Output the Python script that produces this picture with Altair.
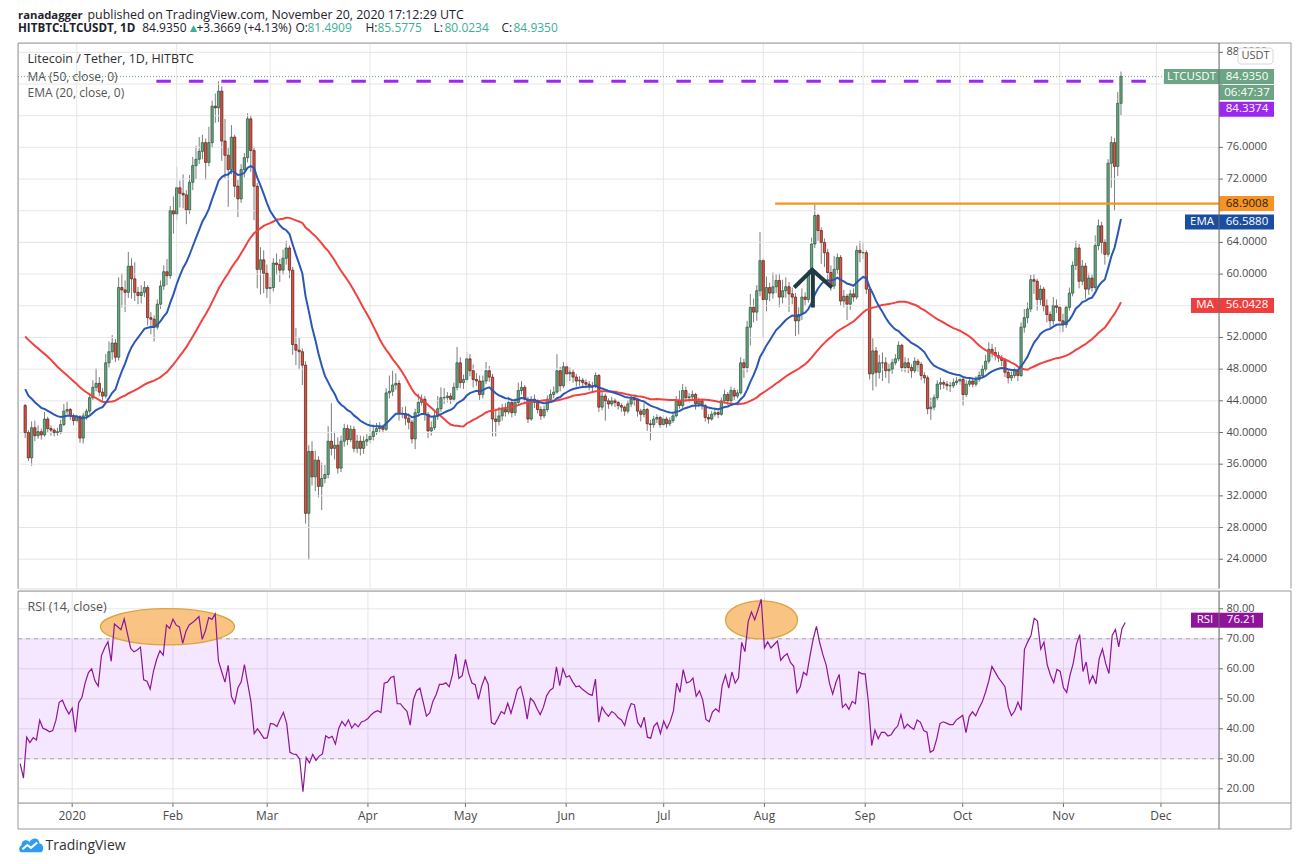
import altair as alt
import numpy as np
import pandas as pd

# ---------------------------------------------------------------- data
START_DATE = "2019-12-16"
FIRST_OPEN = 43.4

# closes before the visible window (Oct 17 - Dec 15 2019): only used to warm up MA / EMA / RSI
warmup_close = [56.2, 54.0, 54.3, 55.6, 55.6, 54.3, 50.9, 51.3, 56.5, 58.5, 60.0, 58.0, 59.4, 57.2, 57.4,
                57.1, 59.0, 58.2, 60.7, 61.1, 62.0, 60.3, 59.5, 60.6, 61.7, 59.6, 60.1, 60.0, 58.5, 57.2,
                57.8, 58.8, 57.4, 56.3, 55.6, 51.7, 47.8, 48.7, 44.8, 45.9, 46.5, 49.0, 48.3, 49.4, 47.7,
                46.5, 45.5, 45.0, 44.8, 45.9, 46.6, 45.8, 46.2, 44.7, 44.0, 43.6, 43.9, 44.3, 42.5, 43.4]

close_dec19 = [40.0, 36.8, 40.6, 39.6, 40.1, 39.7, 41.7, 40.5, 40.3, 40.0, 40.1, 41.0, 42.7, 42.9, 42.1, 41.5]
high_dec19 = [43.6, 40.3, 41.4, 41.5, 40.9, 40.5, 42.6, 42.0, 40.9, 40.5, 40.6, 41.6, 43.6, 43.9, 43.1, 42.4]
low_dec19 = [39.3, 36.4, 35.8, 38.9, 39.2, 39.1, 39.5, 40.0, 39.6, 39.5, 39.6, 39.8, 40.8, 42.3, 41.6, 40.9]

close_jan = [42.0, 39.3, 42.1, 42.7, 44.4, 45.7, 46.2, 45.1, 44.6, 48.8, 50.2, 51.3, 49.5, 58.3, 58.0, 57.7,
             61.0, 59.4, 57.7, 57.3, 57.7, 58.3, 54.5, 54.3, 53.3, 56.2, 58.5, 60.3, 59.8, 68.0, 67.6]
high_jan = [42.3, 42.2, 42.5, 43.0, 44.8, 46.6, 48.1, 47.0, 45.6, 49.9, 51.5, 52.3, 51.8, 59.6, 60.1, 59.2,
            62.8, 62.0, 61.5, 58.4, 58.6, 59.1, 58.6, 55.2, 54.8, 56.8, 59.2, 61.1, 61.9, 68.6, 69.8]
low_jan = [41.2, 38.7, 38.6, 41.6, 42.4, 44.1, 45.2, 44.6, 44.0, 44.3, 48.2, 49.2, 48.9, 49.1, 55.8, 55.2,
           57.0, 56.9, 56.6, 56.2, 56.3, 57.1, 53.5, 52.4, 51.5, 53.0, 55.6, 58.0, 58.6, 59.4, 65.1]

close_feb = [70.9, 70.2, 70.0, 68.1, 71.6, 73.7, 74.5, 75.5, 76.6, 74.1, 76.6, 81.2, 81.0, 83.1, 76.8,
             75.0, 73.2, 77.3, 71.1, 69.5, 73.2, 74.7, 79.6, 75.6, 71.1, 60.6, 61.8, 60.1, 58.2]
high_feb = [73.5, 71.8, 72.6, 70.6, 72.5, 74.8, 76.2, 77.3, 77.6, 77.1, 78.6, 81.9, 82.8, 84.34, 83.7,
            79.6, 75.9, 78.8, 77.6, 71.9, 73.9, 75.3, 80.3, 80.0, 76.1, 71.5, 63.4, 63.0, 61.2]
low_feb = [66.8, 68.4, 68.3, 66.3, 67.6, 70.6, 72.0, 73.9, 74.5, 71.9, 73.6, 75.9, 79.1, 79.2, 74.3,
           72.1, 68.5, 72.6, 69.7, 67.2, 69.0, 72.2, 74.1, 72.9, 66.8, 58.2, 57.4, 57.6, 57.0]

close_mar = [58.3, 61.4, 61.2, 60.5, 62.0, 63.3, 60.5, 51.1, 50.4, 50.2, 48.5, 29.8, 37.6, 34.4, 36.5, 33.2,
             34.2, 34.7, 38.9, 38.0, 38.4, 35.5, 38.9, 40.5, 39.1, 40.4, 38.0, 38.9, 38.0, 38.9, 39.1]
high_mar = [59.6, 62.0, 62.6, 61.9, 63.1, 64.2, 63.6, 60.9, 53.2, 52.0, 50.6, 49.0, 38.4, 38.9, 37.7, 37.0,
            36.2, 35.9, 40.8, 43.7, 40.1, 39.4, 39.6, 41.1, 41.0, 40.9, 40.8, 39.7, 39.6, 39.5, 39.8]
low_mar = [56.2, 57.8, 59.9, 59.0, 59.9, 61.2, 59.5, 49.8, 48.5, 48.0, 46.0, 28.5, 23.9, 33.3, 32.6, 31.8,
           30.2, 33.6, 34.2, 37.1, 36.6, 34.8, 35.0, 38.2, 38.4, 38.8, 37.5, 37.4, 37.1, 37.3, 38.3]

close_apr = [39.5, 40.1, 40.5, 40.7, 40.4, 45.0, 45.2, 46.0, 46.2, 42.4, 42.4, 41.8, 41.3, 39.2, 42.5,
             43.8, 44.2, 42.3, 40.2, 40.6, 42.1, 43.0, 44.4, 44.4, 44.6, 44.2, 45.7, 48.8, 46.3, 46.7]
high_apr = [41.5, 41.0, 41.2, 41.3, 41.0, 45.6, 47.2, 47.8, 47.5, 46.6, 43.2, 43.3, 42.4, 41.6, 43.0,
            44.9, 44.8, 44.6, 42.6, 41.4, 42.7, 44.6, 45.7, 45.6, 45.1, 45.0, 46.3, 50.8, 49.5, 47.3]
low_apr = [38.6, 39.0, 39.7, 40.0, 39.9, 40.2, 44.3, 44.6, 45.4, 41.5, 41.8, 40.9, 40.4, 38.6, 37.9,
           42.0, 43.4, 41.5, 39.3, 39.6, 40.3, 41.6, 42.6, 43.6, 43.8, 43.6, 43.9, 45.3, 45.6, 45.5]

close_may = [49.3, 47.8, 46.7, 46.5, 44.8, 46.5, 47.8, 47.0, 41.7, 41.4, 42.1, 42.9, 42.6, 43.8, 42.5, 43.8,
             45.3, 45.7, 44.2, 41.7, 44.2, 43.8, 42.9, 42.1, 42.9, 44.2, 44.8, 45.1, 47.8, 45.9, 48.3]
high_may = [50.2, 49.9, 48.6, 47.5, 47.2, 47.2, 48.9, 48.4, 47.4, 43.0, 43.2, 43.6, 43.7, 44.5, 44.2, 44.3,
            46.3, 46.5, 46.0, 44.5, 44.6, 44.8, 44.2, 43.3, 43.4, 44.7, 45.4, 45.8, 49.9, 48.3, 48.9]
low_may = [46.3, 47.1, 45.7, 45.9, 44.1, 44.3, 46.1, 46.4, 39.5, 39.5, 40.9, 41.5, 42.0, 42.3, 41.9, 42.1,
           43.5, 44.8, 43.6, 41.2, 41.5, 43.1, 42.4, 41.6, 41.8, 42.6, 43.9, 44.3, 44.9, 45.2, 45.6]

close_jun = [47.4, 47.6, 47.0, 46.5, 46.6, 46.3, 46.1, 45.9, 45.8, 47.2, 43.2, 44.6, 44.0, 43.6, 44.0,
             43.8, 43.4, 43.2, 42.7, 43.6, 44.2, 44.1, 42.7, 42.3, 42.9, 41.1, 41.0, 41.7, 41.9, 41.0]
high_jun = [48.8, 48.2, 48.0, 47.4, 47.1, 46.9, 46.7, 46.5, 46.4, 47.6, 47.4, 45.1, 44.9, 44.3, 44.5,
            44.3, 44.0, 43.7, 43.4, 44.1, 44.8, 44.6, 44.3, 43.0, 43.7, 43.1, 41.6, 42.1, 42.3, 42.1]
low_jun = [46.3, 46.5, 46.3, 45.8, 45.9, 45.7, 45.6, 45.3, 45.2, 45.6, 42.6, 42.8, 41.5, 43.0, 43.3,
           43.2, 42.9, 42.6, 42.1, 42.4, 43.2, 43.4, 42.0, 41.4, 41.9, 40.2, 39.0, 40.6, 41.2, 40.6]

close_jul = [41.7, 41.1, 41.5, 42.1, 44.0, 43.4, 45.3, 44.4, 44.5, 44.8, 43.6, 44.0, 43.4, 41.9, 41.7, 42.3,
             42.5, 42.3, 44.0, 44.8, 44.0, 45.3, 44.6, 45.0, 48.8, 48.2, 53.3, 55.8, 55.2, 57.9, 61.7]
high_jul = [42.2, 42.0, 41.9, 42.6, 44.6, 45.3, 46.1, 45.8, 45.0, 45.3, 45.0, 44.4, 44.2, 43.6, 42.3, 42.7,
            42.9, 42.8, 44.4, 45.4, 45.1, 45.8, 45.6, 45.4, 49.5, 49.3, 54.1, 57.5, 56.9, 58.6, 65.3]
low_jul = [40.8, 40.6, 40.8, 41.2, 41.9, 43.0, 43.1, 43.9, 43.8, 44.0, 42.9, 43.2, 42.9, 41.4, 41.1, 41.5,
           42.0, 41.8, 42.1, 43.7, 43.5, 43.8, 44.1, 44.3, 44.8, 46.9, 47.6, 51.0, 53.9, 54.1, 57.2]

close_aug = [56.8, 58.3, 57.6, 58.4, 59.2, 57.1, 57.9, 58.4, 57.5, 57.1, 54.1, 54.9, 57.1, 56.8, 60.0, 63.8,
             67.4, 65.5, 64.0, 62.7, 60.2, 58.5, 60.6, 62.1, 56.6, 57.2, 56.2, 57.5, 57.1, 63.0, 62.7]
high_aug = [62.0, 59.7, 58.9, 60.2, 60.0, 60.1, 59.3, 59.6, 59.0, 58.3, 57.6, 55.8, 58.2, 57.7, 60.5, 64.6,
            68.8, 67.6, 65.9, 64.5, 63.2, 61.1, 62.3, 62.6, 62.4, 58.0, 57.5, 58.0, 58.2, 63.6, 64.2]
low_aug = [52.0, 55.3, 56.6, 56.9, 57.6, 55.8, 56.3, 57.0, 55.2, 56.2, 52.2, 52.4, 54.2, 56.0, 56.4, 59.3,
           63.3, 64.2, 61.3, 60.9, 59.3, 57.9, 58.1, 60.0, 56.0, 55.8, 54.2, 55.5, 56.5, 56.8, 61.5]

close_sep = [62.7, 58.1, 47.4, 50.3, 47.6, 48.8, 48.8, 47.8, 48.0, 48.8, 49.3, 51.0, 48.2, 48.8, 48.2,
             47.8, 49.0, 48.6, 47.2, 46.9, 43.0, 43.2, 44.4, 46.1, 46.3, 46.1, 45.9, 45.9, 46.3, 46.5]
high_sep = [64.1, 63.0, 58.4, 51.9, 50.8, 49.8, 50.1, 49.5, 48.7, 49.3, 49.9, 51.5, 51.2, 49.5, 49.4,
            48.6, 49.5, 49.3, 48.9, 47.6, 47.2, 44.4, 44.8, 46.6, 46.9, 46.6, 46.5, 46.4, 46.8, 47.0]
low_sep = [61.9, 57.5, 46.7, 45.3, 45.8, 46.8, 46.5, 46.9, 46.2, 47.4, 48.5, 49.0, 47.7, 47.6, 47.5,
           46.9, 47.5, 47.7, 46.6, 46.2, 42.3, 41.6, 42.8, 44.0, 45.4, 45.5, 45.3, 45.1, 45.6, 46.0]

close_oct = [46.7, 44.8, 46.1, 46.5, 46.1, 46.7, 47.2, 48.0, 49.0, 50.5, 50.1, 49.7, 49.4, 49.1, 47.6, 46.9,
             47.2, 47.8, 47.2, 53.3, 54.5, 55.6, 59.3, 59.1, 56.8, 58.1, 56.0, 54.9, 54.1, 56.0, 55.8]
high_oct = [47.3, 47.0, 46.6, 47.0, 46.8, 47.1, 47.7, 48.5, 49.8, 51.4, 51.2, 50.8, 50.2, 49.8, 49.4, 48.0,
            47.7, 48.2, 48.1, 53.9, 55.6, 56.4, 59.9, 60.0, 59.4, 58.6, 58.4, 56.8, 55.3, 57.1, 56.8]
low_oct = [46.0, 43.4, 44.5, 45.8, 45.7, 45.8, 46.4, 46.9, 47.7, 48.7, 49.5, 49.1, 48.9, 48.4, 47.0, 46.2,
           46.5, 46.9, 46.5, 47.0, 52.6, 53.8, 55.2, 57.5, 55.4, 56.1, 55.3, 53.9, 53.2, 53.6, 55.1]

close_nov = [54.1, 53.6, 55.8, 57.6, 61.1, 63.3, 59.1, 61.0, 58.1, 59.5, 58.3, 63.6, 66.1, 64.0, 62.5,
             74.0, 76.6, 73.6, 81.5681, 84.935]
high_nov = [56.2, 55.0, 56.1, 58.3, 61.6, 64.2, 63.8, 61.8, 61.4, 60.1, 60.0, 64.9, 66.9, 66.6, 64.4,
            74.5, 77.4, 77.2, 83.0, 85.5775]
low_nov = [52.6, 52.7, 53.2, 55.4, 57.2, 60.5, 58.2, 58.6, 56.9, 57.4, 57.8, 58.0, 63.0, 62.6, 61.2,
           62.2, 70.9, 68.0, 72.4, 80.0234]

month_labels = ["2020", "Feb", "Mar", "Apr", "May", "Jun", "Jul", "Aug", "Sep", "Oct", "Nov", "Dec"]
price_ticks = [24, 28, 32, 36, 40, 44, 48, 52, 56, 60, 64, 68, 72, 76, 80, 84, 88]
price_labels_hidden = [56, 68, 80, 84]      # covered by the price tags in the reference
rsi_ticks = [20, 30, 40, 50, 60, 70, 80]

# annotations drawn by the author (day index from START_DATE, price / RSI units)
feb_high_price, feb_high_start_day = 84.3374, 40.7
resistance_price, resistance_start_day = 68.9008, 232.7
arrow_days = [238.6, 244.2, 250.3]
arrow_prices = [58.31, 60.54, 58.31]
arrow_stem_day, arrow_stem_low = 244.4, 55.78
ellipse_days = [45.3, 228.1]
ellipse_rsi = [74.0, 76.3]

last_price = 84.9350
ema_label_value = 66.5880
ma_label_value = 56.0428
rsi_label_value = 76.21
countdown = "06:47:37"

header_texts = ["ranadagger", "published on TradingView.com, November 20, 2020 17:12:29 UTC",
                "HITBTC:LTCUSDT, 1D", "84.9350", "\u25b2", "+3.3669 (+4.13%)", "O:", "81.4909", "H:", "85.5775",
                "L:", "80.0234", "C:", "84.9350"]

# ---------------------------------------------------------------- assemble
close = (close_dec19 + close_jan + close_feb + close_mar + close_apr + close_may + close_jun +
         close_jul + close_aug + close_sep + close_oct + close_nov)
high = (high_dec19 + high_jan + high_feb + high_mar + high_apr + high_may + high_jun +
        high_jul + high_aug + high_sep + high_oct + high_nov)
low = (low_dec19 + low_jan + low_feb + low_mar + low_apr + low_may + low_jun +
       low_jul + low_aug + low_sep + low_oct + low_nov)
n = len(close)
assert len(high) == n and len(low) == n, (n, len(high), len(low))
opens = [FIRST_OPEN] + close[:-1]

s = pd.Series(warmup_close + close, dtype=float)
ma = s.rolling(50).mean().iloc[-n:].values
ema = s.ewm(span=20, adjust=False).mean().iloc[-n:].values
diff = s.diff().fillna(0)
gain = diff.clip(lower=0).ewm(alpha=1 / 14, adjust=False).mean()
loss = (-diff).clip(lower=0).ewm(alpha=1 / 14, adjust=False).mean()
rsi = (100 - 100 / (1 + gain / loss)).iloc[-n:].values

df = pd.DataFrame({"d": np.arange(n), "open": opens, "close": close, "high": high, "low": low,
                   "ma": ma, "ema": ema, "rsi": rsi})
df["high"] = df[["high", "open", "close"]].max(axis=1)
df["low"] = df[["low", "open", "close"]].min(axis=1)

start = pd.Timestamp(START_DATE)
month_days = [int((m - start).days) for m in pd.date_range("2020-01-01", "2020-12-01", freq="MS")]
months_df = pd.DataFrame({"d": month_days, "label": month_labels})
pticks_df = pd.DataFrame({"v": price_ticks})
plabels_df = pd.DataFrame({"v": [v for v in price_ticks if v not in price_labels_hidden]})
rticks_df = pd.DataFrame({"v": rsi_ticks})

# ---------------------------------------------------------------- layout / style
FONT = "Open Sans"
W = 1201
H1 = 545.5
H2 = 212
AXW = 72
AXH = 26
TOP_ROOM = 33.7          # space above the price pane for the publication header
PX_DAY = 3.25
X0 = -0.677
PX_PRICE = 7.92
P_TOP = 89.18
PX_RSI = 3.0
R_TOP = 85.93

GRID = "#e6e6e6"
FRAME = "#9a9a9a"
AXC = "#6e6e6e"
LABEL_C = "#4a4a4a"
UP, UP_B = "#6ba583", "#225437"
DN, DN_B = "#d75442", "#5b1a13"
WICK = "#7d7d7f"
MA_C = "#f0433f"
EMA_C = "#2a58b6"
PURPLE = "#9c27f0"
ORANGE = "#f7931e"
LBL_G = "#6ba583"
EMA_BOX = "#1b4ea0"
MA_BOX = "#ef3e3e"
RSI_C = "#8e1599"
TEAL = "#3dae95"
DARK = "#1e222d"

ONE = pd.DataFrame({"k": [0]})
xs = alt.Scale(domain=[X0, X0 + W / PX_DAY], nice=False, zero=False)
ps = alt.Scale(domain=[P_TOP - H1 / PX_PRICE, P_TOP], nice=False, zero=False)
rs = alt.Scale(domain=[R_TOP - H2 / PX_RSI, R_TOP], nice=False, zero=False)
XN = alt.X("d:Q", axis=None)


def seg(x1, x2, y1, y2, color=FRAME, w=1.0):
    return alt.Chart(ONE).mark_rule(color=color, strokeWidth=w).encode(
        x=alt.value(x1), x2=alt.value(x2), y=alt.value(y1), y2=alt.value(y2))


def txt(s_, x, y, size=12, color="#555555", weight="normal", align="left", baseline="middle"):
    return alt.Chart(ONE).mark_text(text=s_, font=FONT, fontSize=size, color=color, fontWeight=weight,
                                    align=align, baseline=baseline).encode(x=alt.value(x), y=alt.value(y))


def pbox(x1, x2, p, color, half=7.5):
    return alt.Chart(ONE).mark_rect(color=color, yOffset=-half, y2Offset=half).encode(
        x=alt.value(x1), x2=alt.value(x2), y=alt.YDatum(p, axis=None), y2=alt.Y2Datum(p))


def ptxt(s_, x, p, color="white", size=11.5):
    return alt.Chart(ONE).mark_text(text=s_, font=FONT, fontSize=size, color=color, align="center",
                                    baseline="middle").encode(x=alt.value(x), y=alt.YDatum(p, axis=None))


def month_grid(h):
    return alt.Chart(months_df).mark_rule(color=GRID, strokeWidth=1).encode(
        x=XN, y=alt.value(0), y2=alt.value(h))


def value_grid(frame):
    return alt.Chart(frame).mark_rule(color=GRID, strokeWidth=1).encode(
        x=alt.value(0), x2=alt.value(W), y=alt.Y("v:Q", axis=None))


def value_axis(tick_frame, label_frame, fmt):
    ticks = alt.Chart(tick_frame).mark_rule(color=AXC, strokeWidth=1).encode(
        x=alt.value(W), x2=alt.value(W + 4), y=alt.Y("v:Q", axis=None))
    labels = alt.Chart(label_frame).mark_text(align="left", baseline="middle", font=FONT, fontSize=11,
                                              color=LABEL_C).encode(
        x=alt.value(W + 7.5), y=alt.Y("v:Q", axis=None), text=alt.Text("v:Q", format=fmt))
    return [ticks, labels]


# ---------------------------------------------------------------- publication header (above the price pane)
hx = [0, 69.5, 0, 124.2, 169.5, 178.5, 277.5, 289.5, 347.5, 359.5, 415.5, 426.5, 483.5, 495.5]
hy = [-24.0, -24.0] + [-11.5] * 12
hsize = [11.3, 12.4, 11.6] + [12.0] * 11
hbold = [True, False, True] + [False] * 11
hcol = [DARK, DARK, DARK, DARK, TEAL, DARK, DARK, TEAL, DARK, TEAL, DARK, TEAL, DARK, TEAL]
header_layers = [txt(t_, x_, y_, size=z_, color=c_, weight="bold" if b_ else "normal", baseline="alphabetic")
                 for t_, x_, y_, z_, b_, c_ in zip(header_texts, hx, hy, hsize, hbold, hcol)]
top_anchor = alt.Chart(ONE).mark_rule(color="white", opacity=0, strokeWidth=1).encode(
    x=alt.value(0), x2=alt.value(1), y=alt.value(-TOP_ROOM + 0.5), y2=alt.value(-TOP_ROOM + 0.5))

# ---------------------------------------------------------------- price panel
wicks = alt.Chart(df).mark_rule(color=WICK, strokeWidth=1).encode(
    x=alt.X("d:Q", scale=xs, axis=None), y=alt.Y("low:Q", scale=ps, axis=None), y2="high:Q")
bodies_up = alt.Chart(df).transform_filter("datum.close >= datum.open").mark_bar(
    size=2.3, fill=UP, stroke=UP_B, strokeWidth=0.7).encode(x=XN, y=alt.Y("open:Q", axis=None), y2="close:Q")
bodies_dn = alt.Chart(df).transform_filter("datum.close < datum.open").mark_bar(
    size=2.3, fill=DN, stroke=DN_B, strokeWidth=0.7).encode(x=XN, y=alt.Y("open:Q", axis=None), y2="close:Q")
ma_line = alt.Chart(df).mark_line(color=MA_C, strokeWidth=2).encode(x=XN, y=alt.Y("ma:Q", axis=None))
ema_line = alt.Chart(df).mark_line(color=EMA_C, strokeWidth=2).encode(x=XN, y=alt.Y("ema:Q", axis=None))

price_line = alt.Chart(ONE).mark_rule(color=LBL_G, strokeDash=[1, 2], strokeWidth=1).encode(
    x=alt.value(0), x2=alt.value(W), y=alt.YDatum(last_price, axis=None))
feb_line = alt.Chart(ONE).mark_rule(color=PURPLE, strokeDash=[14.5, 18], strokeWidth=3).encode(
    x=alt.XDatum(feb_high_start_day, axis=None), x2=alt.value(W), y=alt.YDatum(feb_high_price, axis=None))
res_line = alt.Chart(ONE).mark_rule(color=ORANGE, strokeWidth=2.3).encode(
    x=alt.XDatum(resistance_start_day, axis=None), x2=alt.value(W), y=alt.YDatum(resistance_price, axis=None))
arrow_df = pd.DataFrame({"d": arrow_days, "p": arrow_prices})
arrow = alt.Chart(arrow_df).mark_line(color="#1f3c45", strokeWidth=4).encode(x=XN, y=alt.Y("p:Q", axis=None))
arrow_stem = alt.Chart(ONE).mark_rule(color="#1f3c45", strokeWidth=4).encode(
    x=alt.XDatum(arrow_stem_day, axis=None), y=alt.YDatum(arrow_prices[1], axis=None),
    y2=alt.Y2Datum(arrow_stem_low))

legend_texts = [
    txt("Litecoin / Tether, 1D, HITBTC", 9.5, 15.8, size=12.5, color="#2f2f2f"),
    txt("MA (50, close, 0)", 9.5, 33.8, size=12, color="#555555"),
    txt("EMA (20, close, 0)", 9.5, 49.8, size=12, color="#555555"),
]

countdown_p = last_price - 16 / PX_PRICE
feb_label_p = feb_high_price - 28 / PX_PRICE
price_boxes = [
    pbox(W - 55, W, last_price, LBL_G), ptxt("LTCUSDT", W - 27.5, last_price),
    pbox(W, W + 55, last_price, LBL_G), ptxt(f"{last_price:.4f}", W + 28, last_price),
    pbox(W, W + 55, countdown_p, LBL_G), ptxt(countdown, W + 28, countdown_p),
    pbox(W, W + 55, feb_label_p, PURPLE), ptxt(f"{feb_high_price:.4f}", W + 28, feb_label_p),
    pbox(W, W + 55, resistance_price, ORANGE), ptxt(f"{resistance_price:.4f}", W + 28, resistance_price, DARK),
    pbox(W - 34, W, ema_label_value, EMA_BOX), ptxt("EMA", W - 17, ema_label_value),
    pbox(W, W + 55, ema_label_value, EMA_BOX), ptxt(f"{ema_label_value:.4f}", W + 28, ema_label_value),
    pbox(W - 28, W, ma_label_value, MA_BOX), ptxt("MA", W - 14, ma_label_value),
    pbox(W, W + 55, ma_label_value, MA_BOX), ptxt(f"{ma_label_value:.4f}", W + 28, ma_label_value),
    alt.Chart(ONE).mark_rect(fill="white", stroke="#d6d6d6", strokeWidth=1, cornerRadius=3).encode(
        x=alt.value(W + 19), x2=alt.value(W + 54), y=alt.value(5), y2=alt.value(21)),
    txt("USDT", W + 36.5, 13, size=11, color="#555555", align="center"),
]
price_frame = [seg(0, W + AXW, 0, 0), seg(0, 0, 0, H1), seg(W + AXW, W + AXW, 0, H1), seg(W, W, 0, H1, AXC)]

price = alt.layer(
    wicks, month_grid(H1), value_grid(pticks_df), bodies_up, bodies_dn, ma_line, ema_line,
    price_line, feb_line, res_line, arrow, arrow_stem,
    *legend_texts, *value_axis(pticks_df, plabels_df, ".4f"), *price_boxes, *price_frame,
    *header_layers, top_anchor,
).properties(width=W, height=H1)

# ---------------------------------------------------------------- RSI panel
rsi_base = alt.Chart(df).mark_point(opacity=0, size=1).encode(
    x=alt.X("d:Q", scale=xs, axis=None), y=alt.Y("rsi:Q", scale=rs, axis=None))
band = alt.Chart(ONE).mark_rect(color="#9915ff", opacity=0.1).encode(
    x=alt.value(0), x2=alt.value(W), y=alt.YDatum(70, axis=None), y2=alt.Y2Datum(30))
levels = alt.Chart(pd.DataFrame({"v": [70, 30]})).mark_rule(
    color="#a6a6a6", strokeDash=[4, 4], strokeWidth=1).encode(
    x=alt.value(0), x2=alt.value(W), y=alt.Y("v:Q", axis=None))
ell_df = pd.DataFrame({"d": ellipse_days, "r": ellipse_rsi})
ELL1 = "M-1,0 A1,0.27,0,1,0,1,0 A1,0.27,0,1,0,-1,0 Z"
ELL2 = "M-1,0 A1,0.53,0,1,0,1,0 A1,0.53,0,1,0,-1,0 Z"
ell1 = alt.Chart(ell_df.iloc[[0]]).mark_point(
    shape=ELL1, size=134 ** 2, filled=True, color="#f9bf78", stroke="#d9a53e", strokeWidth=1.3,
    opacity=1, fillOpacity=0.92).encode(x=XN, y=alt.Y("r:Q", axis=None))
ell2 = alt.Chart(ell_df.iloc[[1]]).mark_point(
    shape=ELL2, size=72 ** 2, filled=True, color="#f9bf78", stroke="#d9a53e", strokeWidth=1.3,
    opacity=1, fillOpacity=0.92).encode(x=XN, y=alt.Y("r:Q", axis=None))
rsi_line = alt.Chart(df).mark_line(color=RSI_C, strokeWidth=1.2).encode(x=XN, y=alt.Y("rsi:Q", axis=None))
time_ticks = alt.Chart(months_df).mark_rule(color=AXC, strokeWidth=1).encode(
    x=XN, y=alt.value(H2), y2=alt.value(H2 + 4))
time_labels = alt.Chart(months_df).mark_text(align="center", baseline="middle", font=FONT, fontSize=12,
                                             color=LABEL_C).encode(x=XN, y=alt.value(H2 + 13), text="label:N")
rsi_texts = [txt("RSI (14, close)", 9.5, 16, size=12.5, color="#555555")]
rsi_boxes = [
    pbox(W - 28, W, rsi_label_value, RSI_C), ptxt("RSI", W - 14, rsi_label_value),
    pbox(W, W + 44, rsi_label_value, RSI_C), ptxt(f"{rsi_label_value:.2f}", W + 22.5, rsi_label_value),
]
rsi_frame = [
    seg(0, W + AXW, 0, 0), seg(0, 0, 0, H2 + AXH), seg(W + AXW, W + AXW, 0, H2 + AXH),
    seg(0, W + AXW, H2, H2), seg(0, W + AXW, H2 + AXH, H2 + AXH), seg(W, W, 0, H2 + AXH, AXC),
]
CLOUD = ("M-0.78,0.55 C-1.0,0.55 -1.0,0.1 -0.76,0.02 C-0.8,-0.35 -0.35,-0.5 -0.15,-0.22 "
         "C0.0,-0.6 0.6,-0.6 0.62,-0.12 C0.95,-0.12 1.0,0.5 0.72,0.55 Z")
ZIG = "M-0.7,0.32 L-0.32,0.0 L-0.04,0.22 L0.45,-0.2"
logo = [
    alt.Chart(ONE).mark_point(shape=CLOUD, size=26 ** 2, filled=True, color="#2e9cf0", opacity=1).encode(
        x=alt.value(13.5), y=alt.value(254)),
    alt.Chart(ONE).mark_point(shape=ZIG, size=26 ** 2, filled=False, color="white", strokeWidth=2,
                              opacity=1).encode(x=alt.value(13.5), y=alt.value(254)),
    txt("TradingView", 27.5, 255, size=14, color="#333333"),
]

rsi_panel = alt.layer(
    rsi_base, month_grid(H2), value_grid(rticks_df), band, levels, ell1, ell2, rsi_line,
    time_ticks, time_labels, *value_axis(rticks_df, rticks_df, ".2f"),
    *rsi_texts, *rsi_boxes, *rsi_frame, *logo,
).properties(width=W, height=H2)

chart = alt.vconcat(price, rsi_panel, spacing=0).properties(
    padding={"left": 9, "top": 0, "right": 5, "bottom": 5}
).configure_view(stroke="transparent").configure(background="white", font=FONT)

chart.save("out.html", embed_options={"renderer": "svg", "actions": False})
